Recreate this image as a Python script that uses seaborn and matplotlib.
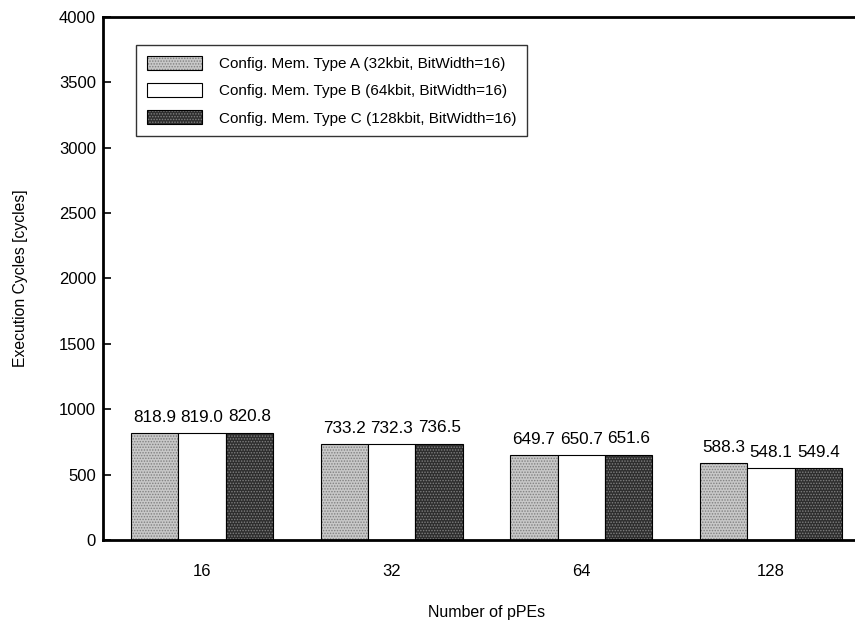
import pandas as pd
import numpy as np
import seaborn as sns
import matplotlib.pyplot as plt
from matplotlib.colors import to_rgba

## Data
pes = ["16", "32", "64", "128"]
type_a = [818.9, 733.2, 649.7, 588.3]
type_b = [819.0, 732.3, 650.7, 548.1]
type_c = [820.8, 736.5, 651.6, 549.4]
configs = ["Config. Mem. Type A (32kbit, BitWidth=16)",
           "Config. Mem. Type B (64kbit, BitWidth=16)",
           "Config. Mem. Type C (128kbit, BitWidth=16)"]

df = pd.DataFrame({
    "pes": pes * 3,
    "cycles": type_a + type_b + type_c,
    "config": [configs[0]] * 4 + [configs[1]] * 4 + [configs[2]] * 4,
})

sns.set_style("white")
plt.rcParams["font.family"] = ["Liberation Sans", "DejaVu Sans"]
plt.rcParams["hatch.linewidth"] = 0.7
for k in ["text.color", "axes.labelcolor", "xtick.color", "ytick.color"]:
    plt.rcParams[k] = "black"

fig = plt.figure(figsize=(8.55, 6.24), dpi=100)
ax = fig.add_axes([0.1205, 0.1346, 0.897, 0.8382])

palette = {configs[0]: "#c8c8c8", configs[1]: "white", configs[2]: "#2e2e2e"}
sns.barplot(data=df, x="pes", y="cycles", hue="config", order=pes,
            hue_order=configs, palette=palette, width=0.75, saturation=1,
            edgecolor="black", linewidth=0.8, ax=ax)

hatches = ["......", "", "......"]
hatch_cols = ["#808080", "black", "#808080"]
for cont, h, hc in zip(ax.containers, hatches, hatch_cols):
    for bar in cont:
        bar.set_hatch(h)
        bar._hatch_color = to_rgba(hc)
    ax.bar_label(cont, fmt="%.1f", padding=6, fontsize=12.3)

ax.set_ylim(0, 4000)
ax.set_xlim(-0.522, 3.522)
ax.set_yticks(np.arange(0, 4001, 500))
ax.tick_params(axis="y", direction="in", length=6, width=1.2, labelsize=12, pad=5, left=True)
ax.tick_params(axis="x", length=0, labelsize=12, pad=17)
ax.set_xlabel("Number of pPEs", fontsize=11.5, labelpad=19)
ax.set_ylabel("Execution Cycles [cycles]", fontsize=11.3, labelpad=22)

for s in ["left", "bottom", "top"]:
    ax.spines[s].set_linewidth(2)
    ax.spines[s].set_color("black")
ax.spines["right"].set_visible(False)

leg = ax.legend(loc="upper left", bbox_to_anchor=(0.043, 0.946), fontsize=11,
                frameon=True, fancybox=False, edgecolor="black",
                borderaxespad=0, handlelength=3.6, handleheight=1.0,
                borderpad=0.7, labelspacing=0.8, handletextpad=1.1)
leg.get_frame().set_linewidth(1)
for p, h, hc in zip(leg.get_patches(), hatches, hatch_cols):
    p.set_hatch(h)
    p._hatch_color = to_rgba(hc)

fig.savefig("out.png", dpi=100)
